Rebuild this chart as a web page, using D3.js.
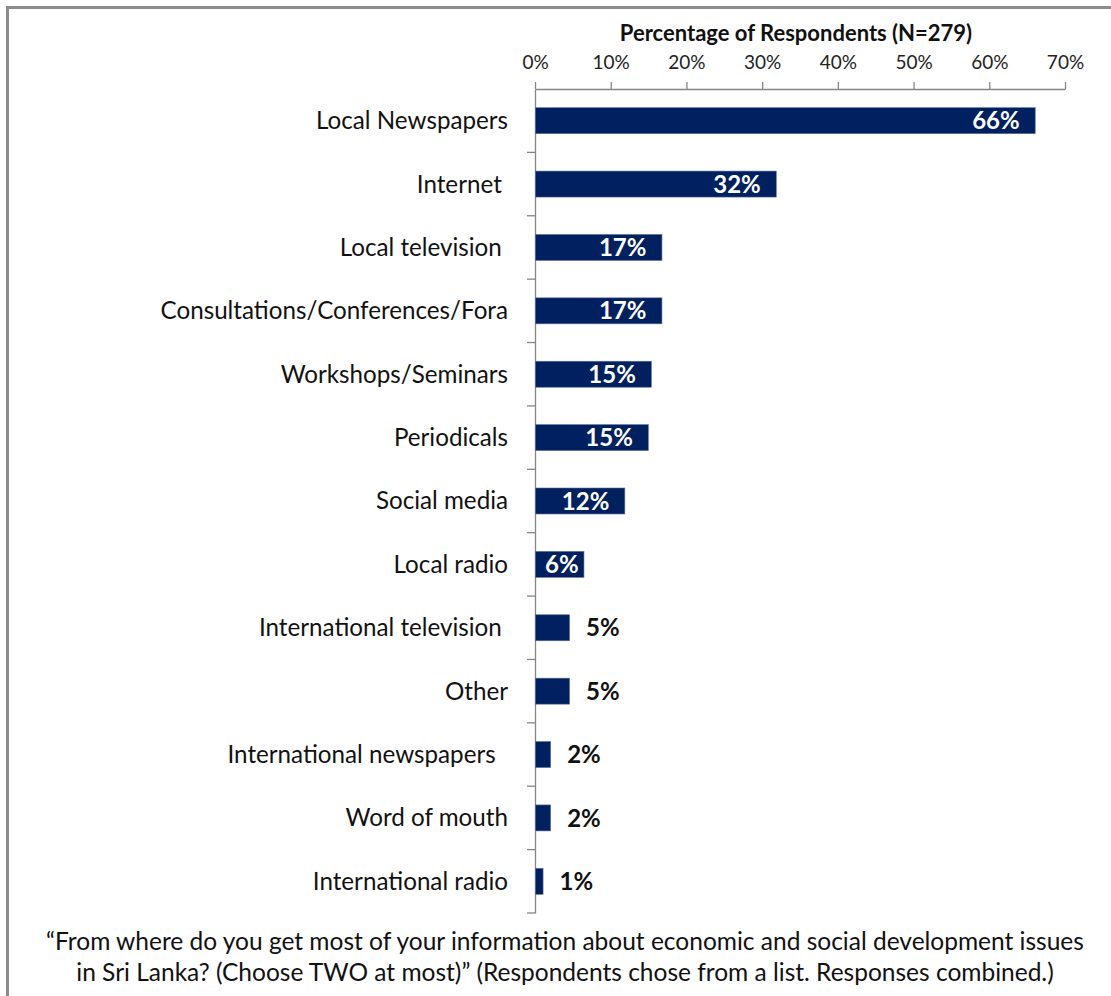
<!DOCTYPE html>
<html>
<head>
<meta charset="utf-8">
<script src="https://cdn.jsdelivr.net/npm/d3@7"></script>
<style>
  html, body { margin: 0; padding: 0; background: #fff; }
  svg text { font-family: Lato, "Open Sans", sans-serif; white-space: pre; }
</style>
</head>
<body>
<svg id="chart" width="1111" height="996"></svg>
<script>
const categories = [
  "Local Newspapers", "Internet ", "Local television ", "Consultations/Conferences/Fora",
  "Workshops/Seminars", "Periodicals", "Social media", "Local radio",
  "International television ", "Other", "International newspapers  ", "Word of mouth",
  "International radio"
];
const values = [66.0, 31.8, 16.7, 16.7, 15.3, 14.9, 11.8, 6.4, 4.5, 4.5, 2.0, 2.0, 1.0];
const tickValues = [0, 10, 20, 30, 40, 50, 60, 70];
const axisTitle = "Percentage of Respondents (N=279)";
const captionLines = [
  "\u201CFrom where do you get most of your information about economic and social development issues",
  "in Sri Lanka? (Choose TWO at most)\u201D (Respondents chose from a list. Responses combined.)"
];

const svg = d3.select("#chart");
const axisColor = "#868686";
const barColor = "#002060";

// outer frame (top and left visible)
svg.append("rect").attr("x", 7.5).attr("y", 7.5).attr("width", 1200).attr("height", 1100)
  .attr("fill", "none").attr("stroke", "#8c8c8c").attr("stroke-width", 3);

const x = d3.scaleLinear().domain([0, 70]).range([535, 1065]);
const y = d3.scaleBand().domain(categories).range([89, 913]).paddingInner(0.59).paddingOuter(0.295);

// top axis
const gx = svg.append("g").attr("transform", "translate(0,89)")
  .call(d3.axisTop(x).tickValues(tickValues).tickFormat(d => d + "%").tickSize(7).tickSizeOuter(0).tickPadding(13));
gx.select(".domain").attr("stroke", axisColor).attr("stroke-width", 1.3);
gx.selectAll(".tick line").attr("stroke", axisColor).attr("stroke-width", 1.3);
gx.selectAll(".tick text").attr("font-size", 19).attr("fill", "#222");

svg.append("text").attr("x", 796).attr("y", 41).attr("text-anchor", "middle")
  .attr("font-size", 22).attr("font-weight", "bold").attr("fill", "#111").text(axisTitle);

// left axis
const gy = svg.append("g").attr("transform", "translate(535,0)")
  .call(d3.axisLeft(y).tickSize(0).tickPadding(27));
gy.select(".domain").attr("stroke", axisColor).attr("stroke-width", 1.3);
gy.selectAll(".tick text").attr("font-size", 24.2).attr("fill", "#111").attr("dy", "0.35em");

// category boundary ticks
const bounds = categories.map(c => y(c) - y.step() * y.paddingInner() / 2).slice(1)
  .concat([y(categories[categories.length - 1]) + y.bandwidth() + y.step() * y.paddingInner() / 2]);
svg.append("g").selectAll("line").data(bounds).join("line")
  .attr("x1", 527).attr("x2", 535).attr("y1", d => d).attr("y2", d => d)
  .attr("stroke", axisColor).attr("stroke-width", 1.3);

// bars
const data = categories.map((c, i) => ({ c, v: values[i] }));
svg.append("g").selectAll("rect").data(data).join("rect")
  .attr("x", x(0) + 0.5).attr("y", d => y(d.c))
  .attr("width", d => x(d.v) - x(0)).attr("height", y.bandwidth())
  .attr("fill", barColor).attr("stroke", "#5a6f99").attr("stroke-width", 0.6);

// value labels
const lbl = svg.append("g").selectAll("text").data(data).join("text")
  .attr("font-size", 24).attr("font-weight", "bold")
  .attr("y", d => y(d.c) + y.bandwidth() / 2).attr("dy", "0.36em")
  .text(d => Math.round(d.v) + "%");
lbl.each(function(d) {
  const t = d3.select(this);
  const w = this.getComputedTextLength();
  if (d.v >= 6) {
    const right = Math.max(x(d.v) - 15, x(0) + w + 10);
    t.attr("x", right).attr("text-anchor", "end").attr("fill", "#fff");
  } else {
    t.attr("x", x(d.v) + 17).attr("text-anchor", "start").attr("fill", "#111");
  }
});

// caption
svg.append("g").selectAll("text").data(captionLines).join("text")
  .attr("x", 565).attr("y", (d, i) => 950 + i * 31).attr("text-anchor", "middle")
  .attr("font-size", 24.5).attr("fill", "#111").text(d => d);
</script>
</body>
</html>
